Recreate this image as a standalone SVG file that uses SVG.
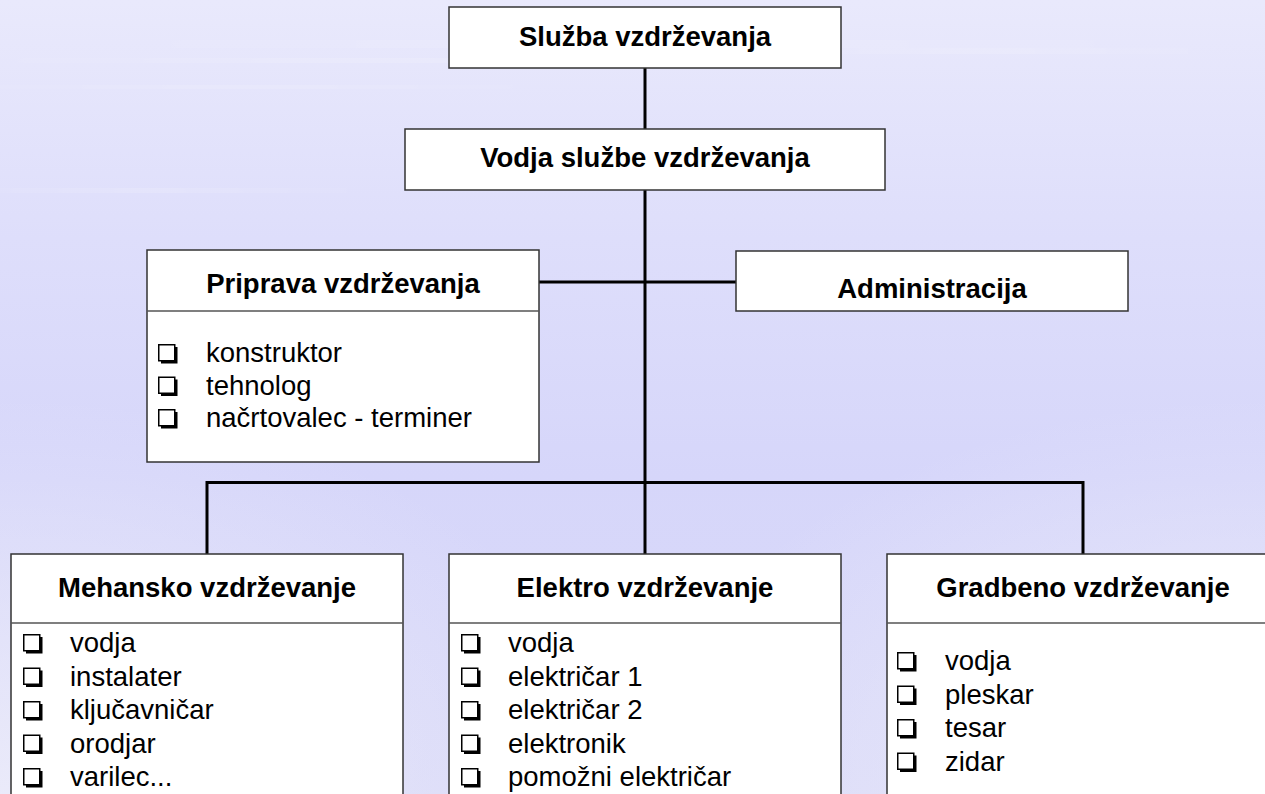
<svg xmlns="http://www.w3.org/2000/svg" xmlns:xlink="http://www.w3.org/1999/xlink" width="1265" height="794" viewBox="0 0 1265 794">
<style>
.box{fill:#ffffff;stroke:#333333;stroke-width:1.5}
.div{stroke:#555555;stroke-width:1.5}
.conn{stroke:#000000;stroke-width:3;fill:none}
.h{font-family:"Liberation Sans",Arial,sans-serif;font-weight:bold;font-size:27.5px;fill:#000;text-anchor:middle}
.t{font-family:"Liberation Sans",Arial,sans-serif;font-size:27.5px;fill:#000}
</style>
<defs>
<linearGradient id="bg" x1="0" y1="0" x2="0" y2="1">
<stop offset="0" stop-color="#e9e9fc"/>
<stop offset="0.3" stop-color="#dedefb"/>
<stop offset="0.6" stop-color="#d6d6fa"/>
<stop offset="1" stop-color="#dadaf8"/>
</linearGradient>
<radialGradient id="glowL" cx="0" cy="1" r="0.5">
<stop offset="0" stop-color="#ececfa" stop-opacity="0.9"/>
<stop offset="1" stop-color="#ececfa" stop-opacity="0"/>
</radialGradient>
<radialGradient id="glowR" cx="1" cy="1" r="0.5">
<stop offset="0" stop-color="#ececfa" stop-opacity="0.9"/>
<stop offset="1" stop-color="#ececfa" stop-opacity="0"/>
</radialGradient>
<linearGradient id="streak" x1="0" y1="0" x2="1" y2="0">
<stop offset="0" stop-color="#ffffff" stop-opacity="0"/>
<stop offset="0.5" stop-color="#ffffff" stop-opacity="1"/>
<stop offset="1" stop-color="#ffffff" stop-opacity="0"/>
</linearGradient>
<g id="bul">
<rect x="0.75" y="0.75" width="16" height="16" fill="none" stroke="#000" stroke-width="1.5"/>
<path d="M16.75 3 H19.5 V19.5 H3 V16.75 H16.75 Z" fill="#000"/>
</g>
</defs>
<rect x="0" y="0" width="1265" height="794" fill="url(#bg)"/>
<rect x="0" y="0" width="1265" height="794" fill="url(#glowL)"/>
<rect x="0" y="0" width="1265" height="794" fill="url(#glowR)"/>
<g opacity="0.15" fill="url(#streak)">
<rect x="0" y="40" width="1265" height="8"/>
<rect x="-100" y="58" width="900" height="5"/>
<rect x="700" y="48" width="565" height="6"/>
<rect x="-100" y="85" width="700" height="4"/>
<rect x="-100" y="188" width="500" height="5"/>
</g>

<g id="connectors">
<line class="conn" x1="645" y1="68" x2="645" y2="129"/>
<line class="conn" x1="645" y1="190" x2="645" y2="554"/>
<line class="conn" x1="539" y1="282" x2="736" y2="282"/>
<polyline class="conn" points="207,554 207,482.5 1083,482.5 1083,554"/>
</g>

<g id="sluzba">
<rect class="box" x="449" y="7" width="392" height="61"/>
<text class="h" x="645" y="46">Služba vzdrževanja</text>
</g>

<g id="vodja">
<rect class="box" x="405" y="129" width="480" height="61"/>
<text class="h" x="645" y="167">Vodja službe vzdrževanja</text>
</g>

<g id="priprava">
<rect class="box" x="147" y="250" width="392" height="212"/>
<line class="div" x1="147" y1="311" x2="539" y2="311"/>
<text class="h" x="343" y="293">Priprava vzdrževanja</text>
<use xlink:href="#bul" x="158" y="344"/>
<text class="t" x="206" y="362">konstruktor</text>
<use xlink:href="#bul" x="158" y="376.5"/>
<text class="t" x="206" y="394.5">tehnolog</text>
<use xlink:href="#bul" x="158" y="409"/>
<text class="t" x="206" y="427">načrtovalec - terminer</text>
</g>

<g id="administracija">
<rect class="box" x="736" y="251" width="392" height="60"/>
<text class="h" x="932" y="298">Administracija</text>
</g>

<g id="mehansko">
<rect class="box" x="11" y="554" width="392" height="260"/>
<line class="div" x1="11" y1="623" x2="403" y2="623"/>
<text class="h" x="207" y="597">Mehansko vzdrževanje</text>
<use xlink:href="#bul" x="23" y="634"/>
<text class="t" x="70" y="652">vodja</text>
<use xlink:href="#bul" x="23" y="667.5"/>
<text class="t" x="70" y="685.5">instalater</text>
<use xlink:href="#bul" x="23" y="701"/>
<text class="t" x="70" y="719">ključavničar</text>
<use xlink:href="#bul" x="23" y="734.5"/>
<text class="t" x="70" y="752.5">orodjar</text>
<use xlink:href="#bul" x="23" y="768"/>
<text class="t" x="70" y="786">varilec...</text>
</g>

<g id="elektro">
<rect class="box" x="449" y="554" width="392" height="260"/>
<line class="div" x1="449" y1="623" x2="841" y2="623"/>
<text class="h" x="645" y="597">Elektro vzdrževanje</text>
<use xlink:href="#bul" x="461" y="634"/>
<text class="t" x="508" y="652">vodja</text>
<use xlink:href="#bul" x="461" y="667.5"/>
<text class="t" x="508" y="685.5">električar 1</text>
<use xlink:href="#bul" x="461" y="701"/>
<text class="t" x="508" y="719">električar 2</text>
<use xlink:href="#bul" x="461" y="734.5"/>
<text class="t" x="508" y="752.5">elektronik</text>
<use xlink:href="#bul" x="461" y="768"/>
<text class="t" x="508" y="786">pomožni električar</text>
</g>

<g id="gradbeno">
<rect class="box" x="887" y="554" width="392" height="260"/>
<line class="div" x1="887" y1="623" x2="1279" y2="623"/>
<text class="h" x="1083" y="597">Gradbeno vzdrževanje</text>
<use xlink:href="#bul" x="897" y="652"/>
<text class="t" x="945" y="670">vodja</text>
<use xlink:href="#bul" x="897" y="685.5"/>
<text class="t" x="945" y="703.5">pleskar</text>
<use xlink:href="#bul" x="897" y="719"/>
<text class="t" x="945" y="737">tesar</text>
<use xlink:href="#bul" x="897" y="752.5"/>
<text class="t" x="945" y="770.5">zidar</text>
</g>
</svg>
